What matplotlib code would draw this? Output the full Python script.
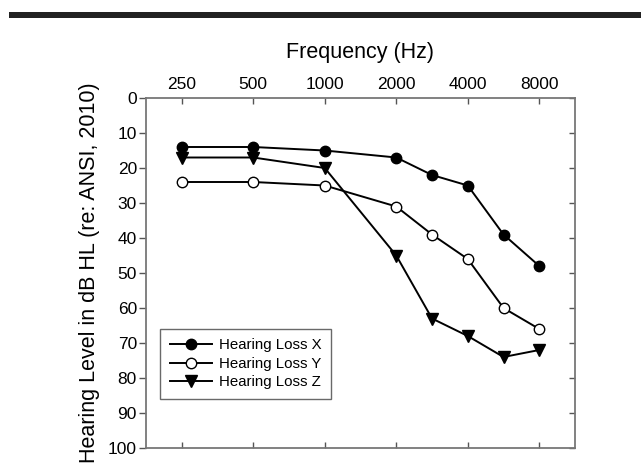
import numpy as np
import matplotlib.pyplot as plt
from matplotlib.patches import Rectangle

plt.rcParams['font.family'] = ['Liberation Sans', 'DejaVu Sans']

# audiometric test frequencies (Hz) and thresholds (dB HL)
freqs = [250, 500, 1000, 2000, 3000, 4000, 6000, 8000]
loss_x = [14, 14, 15, 17, 22, 25, 39, 48]
loss_y = [24, 24, 25, 31, 39, 46, 60, 66]
loss_z = [17, 17, 20, 45, 63, 68, 74, 72]

octave_freqs = [250, 500, 1000, 2000, 4000, 8000]
db_ticks = list(range(0, 101, 10))

# audiogram axis: octaves evenly spaced, inter-octave points at the midpoint
scale_f = [125] + octave_freqs + [16000]
scale_p = list(range(-1, len(octave_freqs) + 1))


def fwd(f):
    return np.interp(f, scale_f, scale_p)


def inv(p):
    return np.interp(p, scale_p, scale_f)


fig = plt.figure(figsize=(6.41, 4.68), dpi=100)
ax = fig.add_axes([146 / 641, 20 / 468, 429 / 641, 350 / 468])

ax.set_xscale('function', functions=(fwd, inv))
ax.set_xlim(inv(-0.5), inv(5.5))

ax.plot(freqs, loss_x, '-o', color='black', mfc='black', mec='black',
        ms=7.5, lw=1.4, label='Hearing Loss X')
ax.plot(freqs, loss_y, '-o', color='black', mfc='white', mec='black',
        ms=7.5, lw=1.4, label='Hearing Loss Y')
ax.plot(freqs, loss_z, '-v', color='black', mfc='black', mec='black',
        ms=8.5, lw=1.4, label='Hearing Loss Z')

ax.set_ylim(100, 0)
ax.set_yticks(db_ticks)
ax.set_xticks(octave_freqs)
ax.set_xticklabels([str(f) for f in octave_freqs])
ax.minorticks_off()

ax.xaxis.set_ticks_position('both')
ax.xaxis.set_label_position('top')
ax.tick_params(axis='x', which='both', direction='in', labeltop=True,
               labelbottom=False, length=4.5, width=1, color='#555555',
               labelsize=12.5, pad=4)
ax.yaxis.set_ticks_position('both')
ax.tick_params(axis='y', direction='out', length=5, width=1, color='#555555',
               labelsize=12.5, pad=1.5, right=True, labelright=False)

# left ticks point outward, right-hand ones inward
for tick in ax.yaxis.get_major_ticks():
    tick.tick2line.set_marker(0)
    tick.tick2line.set_markersize(4.5)

for sp in ax.spines.values():
    sp.set_color('#777777')
    sp.set_linewidth(1.3)

ax.set_xlabel('Frequency (Hz)', fontsize=15.5, labelpad=14)
ax.set_ylabel('Hearing Level in dB HL (re: ANSI, 2010)', fontsize=15.5,
              labelpad=6)

leg = ax.legend(loc='lower left', bbox_to_anchor=(0.033, 0.14), fontsize=10.8,
                frameon=True, fancybox=False, edgecolor='#444444',
                handlelength=2.8, borderpad=0.65, labelspacing=0.3,
                handletextpad=0.47, borderaxespad=0)
leg.get_frame().set_linewidth(1.0)

# heavy rule across the top of the figure
fig.add_artist(Rectangle((9 / 641, 1 - 18 / 468), 1, 6 / 468,
                         transform=fig.transFigure, color='#222222', lw=0))

fig.savefig('out.png', dpi=100)
